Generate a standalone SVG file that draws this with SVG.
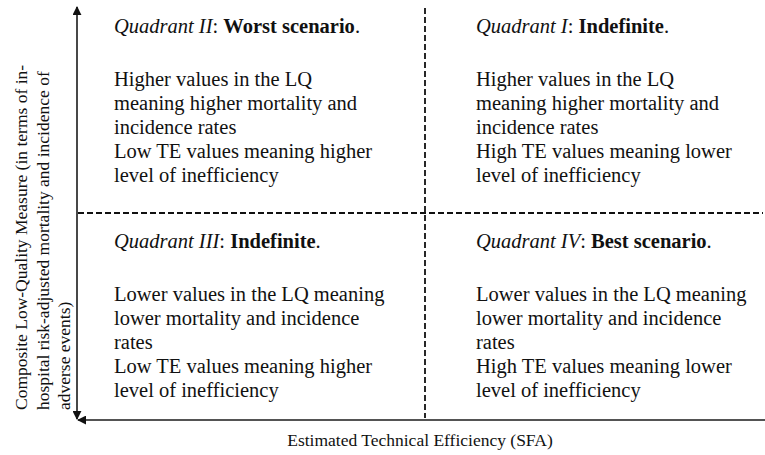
<svg xmlns="http://www.w3.org/2000/svg" width="765" height="455" viewBox="0 0 765 455">
<style>
.t{font-family:"Liberation Serif","Times New Roman",serif;font-size:20.5px;fill:#111}
.ax{font-family:"Liberation Serif","Times New Roman",serif;font-size:17.5px;fill:#111}
.i{font-style:italic}
.b{font-weight:bold}
.axis{stroke:#1a1a1a;stroke-width:1.6;fill:none}
.dash{stroke:#111;stroke-width:1.8;stroke-dasharray:6 3;fill:none}
</style>
<defs>
<marker id="ah" viewBox="0 0 10 10" refX="9" refY="5" markerWidth="9" markerHeight="9" markerUnits="userSpaceOnUse" orient="auto">
<path d="M0,0 L10,5 L0,10 z" fill="#111"/>
</marker>
</defs>
<rect width="765" height="455" fill="#fff"/>
<g id="connectors">
<line class="dash" x1="78" y1="213" x2="763" y2="213"/>
<line class="dash" x1="425" y1="8" x2="425" y2="418"/>
<line class="axis" x1="77" y1="214" x2="77" y2="7" marker-end="url(#ah)"/>
<line class="axis" x1="77" y1="214" x2="77" y2="419" marker-end="url(#ah)"/>
<line class="axis" x1="765" y1="420" x2="78" y2="420" marker-end="url(#ah)"/>
</g>
<g id="q2">
<text class="t" x="114" y="33"><tspan class="i">Quadrant II</tspan>: <tspan class="b">Worst scenario</tspan>.</text>
<text class="t" x="114" y="86">Higher values in the LQ</text>
<text class="t" x="114" y="110">meaning higher mortality and</text>
<text class="t" x="114" y="134">incidence rates</text>
<text class="t" x="114" y="158">Low TE values meaning higher</text>
<text class="t" x="114" y="182">level of inefficiency</text>
</g>
<g id="q1">
<text class="t" x="476" y="33"><tspan class="i">Quadrant I</tspan>: <tspan class="b">Indefinite</tspan>.</text>
<text class="t" x="476" y="86">Higher values in the LQ</text>
<text class="t" x="476" y="110">meaning higher mortality and</text>
<text class="t" x="476" y="134">incidence rates</text>
<text class="t" x="476" y="158">High TE values meaning lower</text>
<text class="t" x="476" y="182">level of inefficiency</text>
</g>
<g id="q3">
<text class="t" x="114" y="248"><tspan class="i">Quadrant III</tspan>: <tspan class="b">Indefinite</tspan>.</text>
<text class="t" x="114" y="301">Lower values in the LQ meaning</text>
<text class="t" x="114" y="325">lower mortality and incidence</text>
<text class="t" x="114" y="349">rates</text>
<text class="t" x="114" y="373">Low TE values meaning higher</text>
<text class="t" x="114" y="397">level of inefficiency</text>
</g>
<g id="q4">
<text class="t" x="476" y="248"><tspan class="i">Quadrant IV</tspan>: <tspan class="b">Best scenario</tspan>.</text>
<text class="t" x="476" y="301">Lower values in the LQ meaning</text>
<text class="t" x="476" y="325">lower mortality and incidence</text>
<text class="t" x="476" y="349">rates</text>
<text class="t" x="476" y="373">High TE values meaning lower</text>
<text class="t" x="476" y="397">level of inefficiency</text>
</g>
<g id="y-label">
<text class="ax" transform="translate(27,410) rotate(-90)">Composite Low-Quality Measure (in terms of in-</text>
<text class="ax" transform="translate(48.5,410) rotate(-90)">hospital risk-adjusted mortality and incidence of</text>
<text class="ax" transform="translate(70,410) rotate(-90)">adverse events)</text>
</g>
<g id="x-label">
<text class="ax" x="420" y="446" text-anchor="middle">Estimated Technical Efficiency (SFA)</text>
</g>
</svg>
